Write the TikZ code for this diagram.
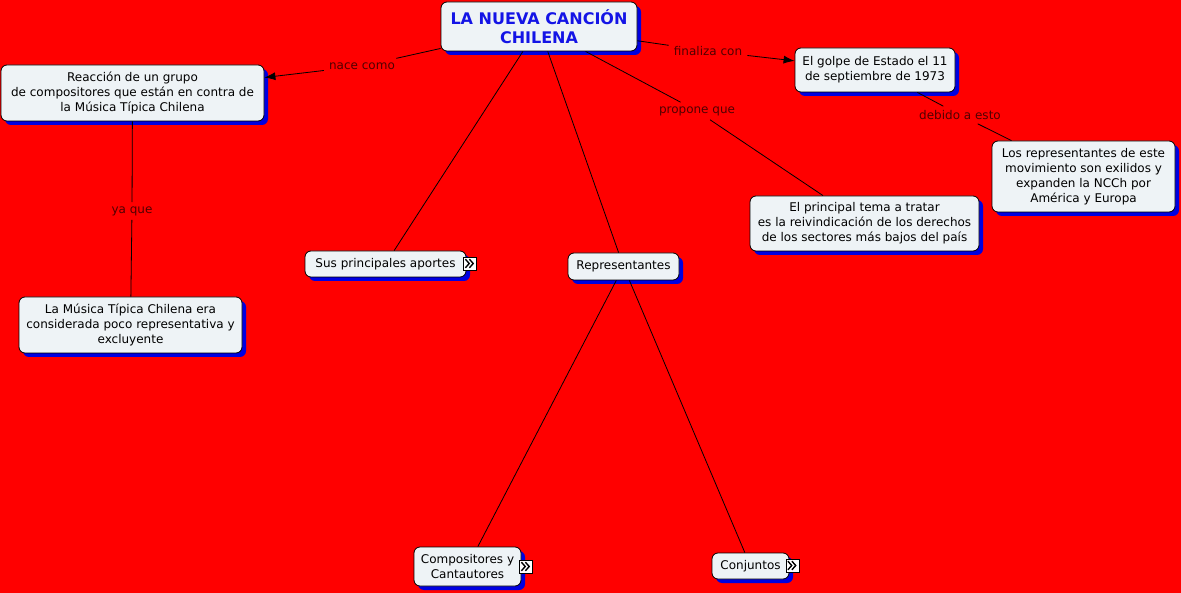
\documentclass[tikz,border=0pt]{standalone}
\usepackage{fontspec}
\setmainfont{DejaVu Sans}
\usetikzlibrary{shadows,arrows.meta}
\definecolor{bgred}{RGB}{255,0,0}
\definecolor{boxfill}{RGB}{238,243,246}
\definecolor{shadowblue}{RGB}{0,0,225}
\definecolor{titleblue}{RGB}{20,20,230}
\definecolor{lbltext}{RGB}{80,0,0}
\newcommand{\chevrons}[1]{%
  \draw[line width=1.4pt, line join=miter]
    ([shift={(-4.6,-4.3)}]#1.center) -- ([shift={(-0.8,0)}]#1.center) -- ([shift={(-4.6,4.3)}]#1.center)
    ([shift={(-0.6,-4.3)}]#1.center) -- ([shift={(3.2,0)}]#1.center) -- ([shift={(-0.6,4.3)}]#1.center);}
\begin{document}
\begin{tikzpicture}[x=1pt,y=-1pt,
  box/.style={draw=black, line width=0.8pt, fill=boxfill, rounded corners=6pt, align=center,
    font=\fontsize{12}{15}\selectfont, inner sep=0pt,
    drop shadow={shadow xshift=4pt, shadow yshift=-4pt, fill=shadowblue, opacity=1}},
  lbl/.style={font=\fontsize{12}{15}\selectfont, text=lbltext, inner xsep=5pt, inner ysep=4pt},
  conn/.style={line width=0.8pt, draw=black},
  arr/.style={conn, -{Latex[length=11pt,width=8pt]}},
  more/.style={draw=black, fill=white, line width=0.7pt, minimum size=13pt, inner sep=0pt}]
\fill[bgred] (0,0) rectangle (1181,593);
\useasboundingbox (0,0) rectangle (1181,593);

% nodes
\node[box, minimum width=196pt, minimum height=49pt, font=\bfseries\fontsize{16}{19}\selectfont, text=titleblue] (title) at (539,26.5) {LA NUEVA CANCIÓN\\CHILENA};
\node[box, minimum width=263pt, minimum height=56pt] (reac) at (132.5,93) {Reacción de un grupo\\de compositores que están en contra de\\la Música Típica Chilena};
\node[box, minimum width=223pt, minimum height=56pt] (musica) at (130.5,325) {La Música Típica Chilena era\\considerada poco representativa y\\excluyente};
\node[box, minimum width=161pt, minimum height=26pt] (sus) at (385.5,264) {Sus principales aportes};
\node[box, minimum width=111pt, minimum height=27pt] (repr) at (623.5,266.5) {Representantes};
\node[box, minimum width=229pt, minimum height=55pt] (tema) at (864.5,223.5) {El principal tema a tratar\\es la reivindicación de los derechos\\de los sectores más bajos del país};
\node[box, minimum width=160pt, minimum height=44pt] (golpe) at (875,70) {El golpe de Estado el 11\\de septiembre de 1973};
\node[box, minimum width=183pt, minimum height=71pt] (exil) at (1083.5,176.5) {Los representantes de este\\movimiento son exilidos y\\expanden la NCCh por\\América y Europa};
\node[box, minimum width=107pt, minimum height=39pt] (comp) at (467.5,566.5) {Compositores y\\Cantautores};
\node[box, minimum width=77pt, minimum height=26pt] (conj) at (750.5,566) {Conjuntos};

% icons
\node[more] (isus) at (470,263.5) {};
\node[more] (icomp) at (526,566.5) {};
\node[more] (iconj) at (792.5,565.5) {};
\chevrons{isus}
\chevrons{icomp}
\chevrons{iconj}

% labels
\node[lbl] (l1) at (362,66) {nace como};
\node[lbl] (l2) at (708,51) {finaliza con};
\node[lbl] (l3) at (697,111) {propone que};
\node[lbl] (l4) at (960,115) {debido a esto};
\node[lbl] (l5) at (132,211) {ya que};

% connectors
\draw[conn] (title) -- (l1);
\draw[arr] (l1) -- (reac);
\draw[conn] (title) -- (l2);
\draw[arr] (l2) -- (golpe);
\draw[conn] (title) -- (l3);
\draw[conn] (l3) -- (tema);
\draw[conn] (golpe) -- (l4);
\draw[conn] (l4) -- (exil);
\draw[conn] (reac) -- (l5);
\draw[conn] (l5) -- (musica);
\draw[conn] (title) -- (sus);
\draw[conn] (title) -- (repr);
\draw[conn] (repr) -- (comp);
\draw[conn] (repr) -- (conj);
\end{tikzpicture}
\end{document}
